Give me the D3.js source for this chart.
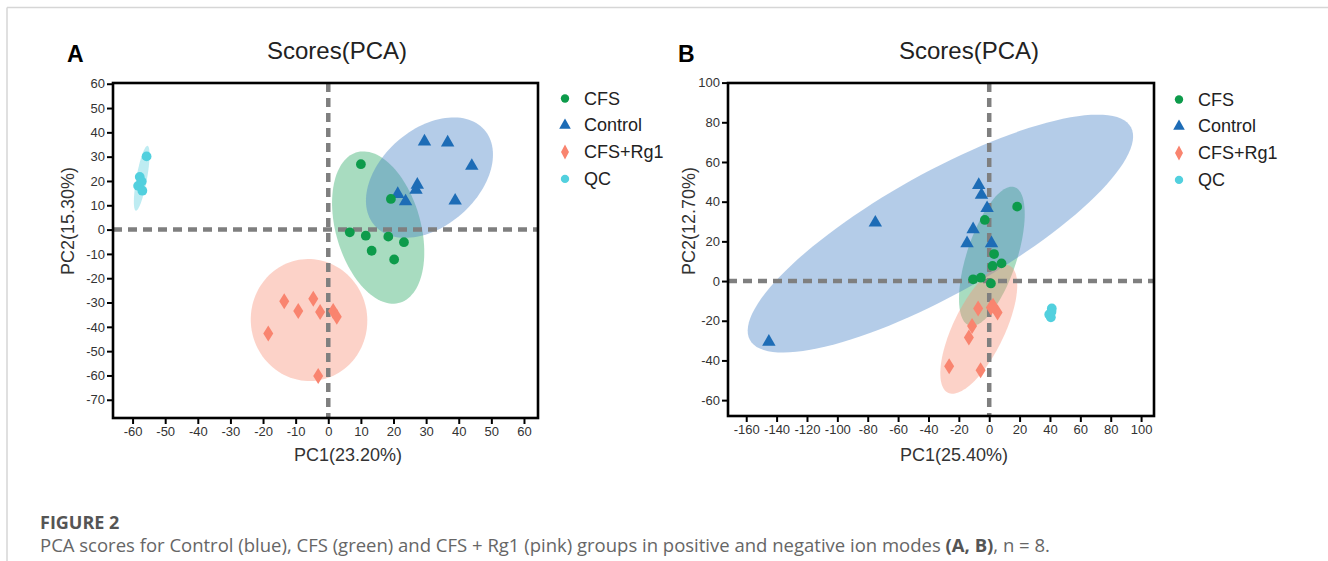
<!DOCTYPE html>
<html>
<head>
<meta charset="utf-8">
<script src="https://cdn.jsdelivr.net/npm/d3@7"></script>
<style>
  body { margin: 0; background: #fff; }
  svg { display: block; }
</style>
</head>
<body>
<svg id="chart" width="1328" height="561"></svg>
<script>
'use strict'

// group names, in legend order
var groups = ["CFS", "Control", "CFS+Rg1", "QC"];

// panel A (positive ion mode) scores, [PC1, PC2]
var aCFS = [[10, 26.9], [19.2, 12.6], [6.6, -1.1], [11.5, -2.5], [18.4, -2.9], [23.2, -5.2], [13.3, -8.7], [20.2, -12.3]];
var aControl = [[29.5, 36.2], [36.6, 35.8], [44, 26.2], [27.3, 18.4], [26.9, 16.3], [21.3, 14.6], [23.7, 11.6], [38.9, 11.9]];
var aRg1 = [[-13.5, -29.5], [-4.6, -28.4], [-9.2, -33.5], [-2.5, -33.9], [1.5, -33.5], [2.6, -35.9], [-18.4, -42.7], [-3.1, -60.2]];
var aQC = [[-55.7, 30.1], [-57.8, 21.7], [-57.2, 19.8], [-58.3, 18], [-57, 16]];

// panel B (negative ion mode) scores
var bCFS = [[18.4, 37.5], [-2.9, 30.8], [3.2, 13.6], [2.2, 7.6], [8.1, 8.9], [-10.6, 0.9], [-5.5, 1.7], [1.1, -1.2]];
var bControl = [[-75, 29.4], [-145.1, -30.6], [-10.6, 26.1], [-14.6, 19], [1.5, 19], [-1.4, 36.7], [-6.9, 48.4], [-5.1, 43.4]];
var bRg1 = [[-7.3, -13.8], [1.1, -13.3], [5.5, -15.8], [-11.3, -22.7], [-13.4, -28.4], [-26.4, -42.9], [-5.7, -44.9], [2.5, -12.5]];
var bQC = [[41.2, -13.8], [39.5, -16.8], [40.6, -18.3], [40, -17.2], [41, -15.5]];

// axis ticks
var aXTicks = d3.range(-60, 61, 10);
var aYTicks = d3.range(-70, 61, 10);
var bXTicks = d3.range(-160, 101, 20);
var bYTicks = d3.range(-60, 101, 20);

var aXLabel = "PC1(23.20%)", aYLabel = "PC2(15.30%)";
var bXLabel = "PC1(25.40%)", bYLabel = "PC2(12.70%)";

var title = "Scores(PCA)";
var captionHead = "FIGURE 2";
var captionText = "PCA scores for Control (blue), CFS (green) and CFS + Rg1 (pink) groups in positive and negative ion modes ";
var captionBold = "(A, B)";
var captionTail = ", n = 8.";

var pointColor = {"CFS": "#0d9b4b", "Control": "#1d6cb6", "CFS+Rg1": "#f9846f", "QC": "#52d0de"};
var fillColor = {"CFS": "#26a862", "Control": "#4480c6", "CFS+Rg1": "#f88f76", "QC": "#5cd0de"};

const svg = d3.select("#chart");

// page frame lines
svg.append("line").attr("x1", 7).attr("x2", 1328).attr("y1", 7.5).attr("y2", 7.5)
    .attr("stroke", "#d6d6d6").attr("stroke-width", 1.5);
svg.append("line").attr("x1", 7).attr("x2", 7).attr("y1", 7.5).attr("y2", 561)
    .attr("stroke", "#d6d6d6").attr("stroke-width", 1.5);

// 95% confidence ellipse from the sample covariance
function ellipsePoints(pts){
    var n = pts.length;
    var mx = d3.mean(pts, d => d[0]), my = d3.mean(pts, d => d[1]);
    var sxx = 0, syy = 0, sxy = 0;
    pts.forEach(function(p){
        sxx += (p[0] - mx) * (p[0] - mx);
        syy += (p[1] - my) * (p[1] - my);
        sxy += (p[0] - mx) * (p[1] - my);
    });
    sxx /= (n - 1); syy /= (n - 1); sxy /= (n - 1);
    var tr = sxx + syy, det = sxx * syy - sxy * sxy;
    var l1 = tr / 2 + Math.sqrt(tr * tr / 4 - det);
    var l2 = tr / 2 - Math.sqrt(tr * tr / 4 - det);
    var ang = Math.atan2(l1 - sxx, sxy);
    if(Math.abs(sxy) < 1e-9) ang = sxx >= syy ? 0 : Math.PI / 2;
    var k = Math.sqrt(5.991);
    var a = k * Math.sqrt(l1), b = k * Math.sqrt(Math.max(l2, 0));
    var out = [];
    for(var i = 0; i <= 120; i++){
        var t = i / 120 * 2 * Math.PI;
        var ex = a * Math.cos(t), ey = b * Math.sin(t);
        out.push([mx + ex * Math.cos(ang) - ey * Math.sin(ang),
                  my + ex * Math.sin(ang) + ey * Math.cos(ang)]);
    }
    return out;
}

function diamond(w, h){
    return "M0," + (-h) + "L" + w + ",0L0," + h + "L" + (-w) + ",0Z";
}

function markerPath(g, big){
    if(g == "Control")
        return d3.symbol().type(d3.symbolTriangle).size(big ? 78 : 58)();
    if(g == "CFS+Rg1")
        return big ? diamond(5, 8) : diamond(4, 7.5);
    return d3.symbol().type(d3.symbolCircle).size(big ? 75 : 55)();
}

function drawPanel(p){
    var x = d3.scaleLinear().domain(p.xDomain).range([p.left, p.right]);
    var y = d3.scaleLinear().domain(p.yDomain).range([p.bottom, p.top]);
    var g = svg.append("g");

    g.append("clipPath").attr("id", "clip" + p.id)
        .append("rect").attr("x", p.left).attr("y", p.top)
        .attr("width", p.right - p.left).attr("height", p.bottom - p.top);

    var plot = g.append("g").attr("clip-path", "url(#clip" + p.id + ")");
    var line = d3.line().x(d => x(d[0])).y(d => y(d[1]));

    // ellipses, green drawn first so blue sits over it
    ["CFS", "Control", "CFS+Rg1", "QC"].forEach(function(name){
        plot.append("path")
            .attr("d", line(ellipsePoints(p.series[name])) + "Z")
            .attr("fill", fillColor[name])
            .attr("fill-opacity", 0.4);
    });

    // zero lines
    plot.append("line").attr("x1", x(0)).attr("x2", x(0)).attr("y1", p.top).attr("y2", p.bottom)
        .attr("stroke", "#7f7f7f").attr("stroke-width", 4.5).attr("stroke-dasharray", "9,6");
    plot.append("line").attr("x1", p.left).attr("x2", p.right).attr("y1", y(0)).attr("y2", y(0))
        .attr("stroke", "#7f7f7f").attr("stroke-width", 4.5).attr("stroke-dasharray", "9,6");

    // points
    ["QC", "CFS+Rg1", "Control", "CFS"].forEach(function(name){
        plot.selectAll(null).data(p.series[name]).enter().append("path")
            .attr("transform", d => "translate(" + x(d[0]) + "," + y(d[1]) + ")")
            .attr("d", markerPath(name, true))
            .attr("fill", pointColor[name]);
    });

    // axes, plain hyphen minus
    var fmt = d => String(d);
    var xa = g.append("g").attr("transform", "translate(0," + p.bottom + ")")
        .call(d3.axisBottom(x).tickValues(p.xTicks).tickFormat(fmt).tickSize(6).tickPadding(3).tickSizeOuter(0));
    var ya = g.append("g").attr("transform", "translate(" + p.left + ",0)")
        .call(d3.axisLeft(y).tickValues(p.yTicks).tickFormat(fmt).tickSize(6).tickPadding(2).tickSizeOuter(0));
    [xa, ya].forEach(function(ax){
        ax.select(".domain").remove();
        ax.selectAll(".tick line").attr("stroke", "#000").attr("stroke-width", 2);
        ax.selectAll(".tick text").attr("fill", "#333")
            .style("font-family", "'Liberation Sans', Arial, sans-serif").style("font-size", "13px");
    });

    g.append("rect").attr("x", p.left).attr("y", p.top)
        .attr("width", p.right - p.left).attr("height", p.bottom - p.top)
        .attr("fill", "none").attr("stroke", "#000").attr("stroke-width", 2.6);

    // texts
    var font = "'Liberation Sans', Arial, sans-serif";
    g.append("text").attr("x", p.letterX).attr("y", 62).text(p.id)
        .style("font-family", font).style("font-size", "23px").style("font-weight", "bold").attr("fill", "#000");
    g.append("text").attr("x", p.titleX).attr("y", 59).attr("text-anchor", "middle").text(title)
        .style("font-family", font).style("font-size", "24px").attr("fill", "#222");
    g.append("text").attr("x", p.xLabelX).attr("y", 461).attr("text-anchor", "middle").text(p.xLabel)
        .style("font-family", font).style("font-size", "18px").attr("fill", "#333");
    g.append("text").attr("transform", "translate(" + p.yLabelX + ",221) rotate(-90)")
        .attr("text-anchor", "middle").text(p.yLabel)
        .style("font-family", font).style("font-size", "18px").attr("fill", "#333");

    // legend
    var lg = g.append("g");
    groups.forEach(function(name, i){
        var ly = p.legendY + i * 26.8;
        lg.append("path").attr("transform", "translate(" + p.legendX + "," + ly + ")")
            .attr("d", markerPath(name, false)).attr("fill", pointColor[name]);
        lg.append("text").attr("x", p.legendX + 19).attr("y", ly + 6).text(name)
            .style("font-family", font).style("font-size", "18px").attr("fill", "#222");
    });
}

drawPanel({
    id: "A", left: 113, right: 538, top: 83, bottom: 418,
    xDomain: [-66, 64.3], yDomain: [-77.5, 60.3],
    xTicks: aXTicks, yTicks: aYTicks,
    series: {"CFS": aCFS, "Control": aControl, "CFS+Rg1": aRg1, "QC": aQC},
    xLabel: aXLabel, yLabel: aYLabel,
    letterX: 67, titleX: 337, xLabelX: 348, yLabelX: 74,
    legendX: 565, legendY: 98.5
});

drawPanel({
    id: "B", left: 728, right: 1154, top: 83, bottom: 416,
    xDomain: [-172, 108.5], yDomain: [-68, 99.8],
    xTicks: bXTicks, yTicks: bYTicks,
    series: {"CFS": bCFS, "Control": bControl, "CFS+Rg1": bRg1, "QC": bQC},
    xLabel: bXLabel, yLabel: bYLabel,
    letterX: 678, titleX: 969, xLabelX: 954, yLabelX: 695,
    legendX: 1179, legendY: 99.5
});

// caption
var cap = "'Open Sans', 'Noto Sans', sans-serif";
svg.append("text").attr("x", 40).attr("y", 529).text(captionHead)
    .style("font-family", cap).style("font-size", "18px").style("font-weight", "bold").attr("fill", "#555");
var ct = svg.append("text").attr("x", 40).attr("y", 552)
    .style("font-family", cap).style("font-size", "18.5px").attr("fill", "#666");
ct.append("tspan").text(captionText);
ct.append("tspan").text(captionBold).style("font-weight", "bold").attr("fill", "#555");
ct.append("tspan").text(captionTail);
</script>
</body>
</html>
